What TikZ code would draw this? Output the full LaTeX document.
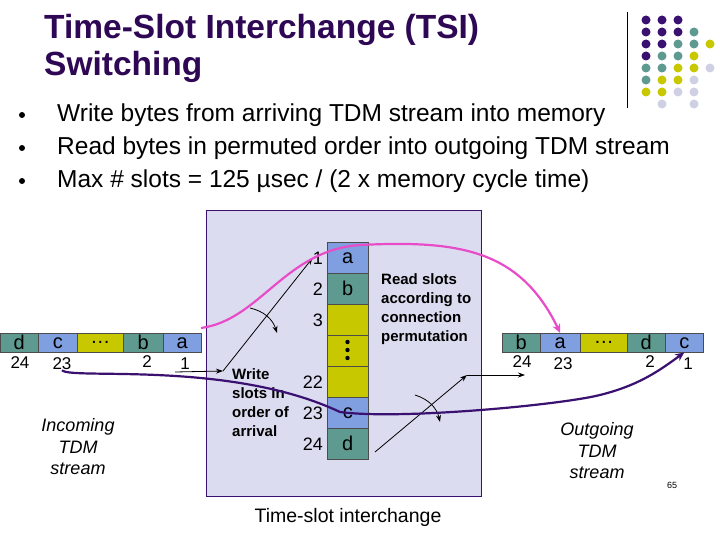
\documentclass[tikz,border=0pt]{standalone}
\usepackage{fontspec}
\setmainfont{Liberation Sans}
\usetikzlibrary{arrows.meta}
\definecolor{ttl}{HTML}{2E0854}
\definecolor{cblue}{HTML}{7F9FE0}
\definecolor{cteal}{HTML}{5F9A90}
\definecolor{cyel}{HTML}{C8C800}
\definecolor{boxbg}{HTML}{DCDCF0}
\definecolor{pnk}{HTML}{E84CC8}
\definecolor{dpur}{HTML}{3A1070}
\definecolor{lgray}{HTML}{D0D0E4}
\begin{document}
\begin{tikzpicture}[x=1pt,y=-1pt,
  cell/.style={draw=black!70,line width=0.5pt,minimum height=19pt,inner sep=0pt,font=\fontsize{20}{20}\selectfont,anchor=north west},
  mcell/.style={draw=black!70,line width=0.5pt,minimum width=41pt,minimum height=31pt,inner sep=0pt,font=\fontsize{20}{20}\selectfont,anchor=north west},
  num/.style={font=\fontsize{17}{17}\selectfont,inner sep=0pt},
  bul/.style={font=\fontsize{24.5}{24.5}\selectfont,anchor=west,inner sep=0pt},
  lbl/.style={font=\bfseries\fontsize{15}{19.3}\selectfont,align=left,inner sep=0pt,anchor=north west},
  stre/.style={font=\itshape\fontsize{18}{21.5}\selectfont,align=center,inner sep=0pt},
  arr/.style={-{Stealth[length=7pt,width=5pt]},line width=0.8pt},
  dot/.style={circle,inner sep=0pt,minimum size=9pt}]
\useasboundingbox (0,0) rectangle (720,540);
\fill[white] (0,0) rectangle (720,540);
% title
\node[anchor=west,inner sep=0pt,text=ttl,font=\bfseries\fontsize{33.5}{33.5}\selectfont] (t1) at (44,30) {Time-Slot Interchange (TSI)};
\node[anchor=west,inner sep=0pt,text=ttl,font=\bfseries\fontsize{33.5}{33.5}\selectfont] (t2) at (44,67) {Switching};
% logo
\draw[line width=0.8pt] (627,12) -- (627,108);
\foreach \r/\cols in {0/{1,1,1,0,0},1/{1,1,1,2,0},2/{1,1,2,2,3},3/{1,2,2,3,0},4/{2,2,3,3,4},5/{2,3,3,4,0},6/{3,3,4,4,0},7/{0,4,0,4,0}}{
  \foreach \cc [count=\i from 0] in \cols {
    \ifnum\cc=1 \node[dot,fill=dpur] at (646+\i*16,20+\r*12) {};\fi
    \ifnum\cc=2 \node[dot,fill=cteal] at (646+\i*16,20+\r*12) {};\fi
    \ifnum\cc=3 \node[dot,fill=cyel] at (646+\i*16,20+\r*12) {};\fi
    \ifnum\cc=4 \node[dot,fill=lgray] at (646+\i*16,20+\r*12) {};\fi
  }}
% bullets
\foreach \y/\t [count=\k] in {115/Write bytes from arriving TDM stream into memory,148/Read bytes in permuted order into outgoing TDM stream,181/{Max \# slots = 125 \textmu sec / (2 x memory cycle time)}}{
  \fill (22,\y) circle (3pt);
  \node[bul] (b\k) at (57,\y) {\t};
}
% box
\node[draw=dpur,fill=boxbg,line width=0.8pt,minimum width=275pt,minimum height=286pt,anchor=north west,inner sep=0pt] (box) at (206,210) {};
% memory column
\node[mcell,fill=cblue] (ma) at (327,242) {a};
\node[mcell,fill=cteal] (mb) at (327,273) {b};
\node[mcell,fill=cyel] (m3) at (327,304) {};
\node[mcell,fill=cyel] (md) at (327,335) {};
\node[mcell,fill=cyel] (m22) at (327,366) {};
\node[mcell,fill=cblue] (mc) at (327,397) {c};
\node[mcell,fill=cteal] (mdd) at (327,428) {d};
\foreach \yy in {342,350,358} \fill (347.5,\yy) circle (2.2pt);
\foreach \n/\y in {1/258,2/289,3/320,22/382,23/413,24/444}
  \node[num,anchor=east,font=\fontsize{18}{18}\selectfont] (n\n) at (323,\y) {\n};
% left stream
\node[cell,fill=cteal,minimum width=38pt] (ld) at (0,333) {d};
\node[cell,fill=cblue,minimum width=39pt] (lc) at (38,333) {c};
\node[cell,fill=cyel,minimum width=46pt] (ly) at (77,333) {\dots};
\node[cell,fill=cteal,minimum width=40pt] (lb) at (123,333) {b};
\node[cell,fill=cblue,minimum width=38pt] (la) at (163,333) {a};
\node[num] (l24) at (20,363) {24};
\node[num] (l23) at (62,364) {23};
\node[num] (l2) at (147,362) {2};
\node[num] (l1) at (185,364) {1};
% right stream
\node[cell,fill=cteal,minimum width=38pt] (rb) at (502,333) {b};
\node[cell,fill=cblue,minimum width=40pt] (ra) at (540,333) {a};
\node[cell,fill=cyel,minimum width=47pt] (ry) at (580,333) {\dots};
\node[cell,fill=cteal,minimum width=38pt] (rd) at (627,333) {d};
\node[cell,fill=cblue,minimum width=38pt] (rc) at (665,333) {c};
\node[num] (r24) at (522,362) {24};
\node[num] (r23) at (563,364) {23};
\node[num] (r2) at (650,362) {2};
\node[num] (r1) at (688,364) {1};
% labels
\node[lbl] (rl) at (381,273) {Read slots\\according to\\connection\\permutation};
\node[lbl] (wl) at (232,368) {Write\\slots in\\order of\\arrival};
\node[stre] (inc) at (78,447) {Incoming\\TDM\\stream};
\node[stre] (outg) at (597,451) {Outgoing\\TDM\\stream};
\node[font=\fontsize{19.5}{19.5}\selectfont,inner sep=0pt] (cap) at (348,517) {Time-slot interchange};
\node[font=\fontsize{9}{9}\selectfont,inner sep=0pt] (pg) at (672,485) {65};
% write arrows
\coordinate (w0) at (175,372);
\coordinate (w1) at (223,371);
\draw[arr] (w0) -- (w1);
\draw[arr] (w1) -- (n1.west);
\draw[arr] (250,308) to[bend left=30] (277,333);
% read arrows
\coordinate (r0) at (375,452);
\coordinate (r1) at (467,375);
\coordinate (r2e) at (525,375);
\draw[arr] (r0) -- (r1);
\draw[arr] (r1) -- (r2e);
\draw[arr] (415,395) to[bend left=30] (440,422);
% pink curve
\draw[pnk,line width=2.2pt,-{Stealth[length=9pt,width=8pt]}] (201,328) .. controls (260,320) and (285,250) .. (360,245)
  .. controls (460,240) and (520,250) .. (ra.north);
% purple curve
\draw[dpur,line width=2.2pt,-{Stealth[length=9pt,width=8pt]}] (l23.south) .. controls (70,380) and (230,360) .. (340,412)
  .. controls (400,420) and (560,405) .. (600,395) .. controls (640,385) and (660,370) .. (rc.south);
\end{tikzpicture}
\end{document}
